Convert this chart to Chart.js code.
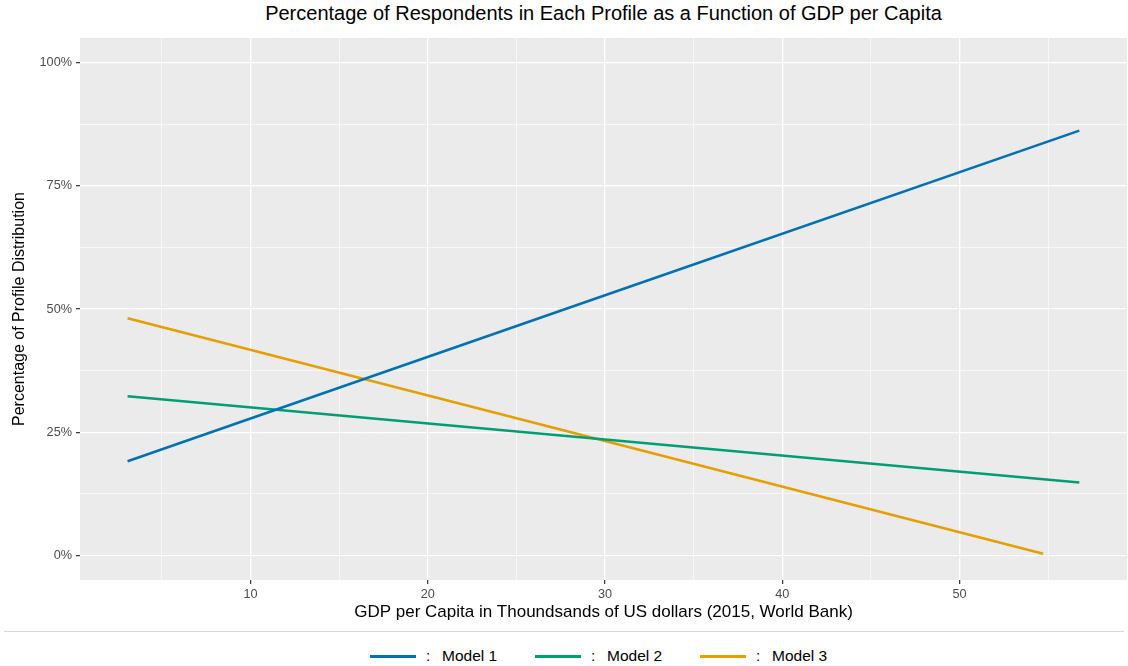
<!DOCTYPE html>
<html>
<head>
<meta charset="utf-8">
<script src="https://cdn.jsdelivr.net/npm/chart.js@4"></script>
<style>
  body { margin: 0; background: #fff; font-family: "Liberation Sans", Arial, sans-serif; }
  #wrap { position: relative; width: 1128px; height: 666px; }
  #chart { position: absolute; left: 0; top: 0; }
  #title { position: absolute; left: 80px; width: 1047px; top: 2px; text-align: center; font-size: 20px; color: #000; }
  #sep { position: absolute; left: 4px; right: 4px; top: 631px; border-top: 1px solid #d9d9d9; }
  #legend { position: absolute; left: 370px; top: 645px; display: flex; font-size: 15.5px; color: #000; }
  .item { display: flex; align-items: center; width: 165px; height: 22px; }
  .swatch { width: 46px; height: 3px; }
  .colon { margin-left: 10px; width: 16px; }
</style>
</head>
<body>
<div id="wrap">
  <div id="title">Percentage of Respondents in Each Profile as a Function of GDP per Capita</div>
  <canvas id="chart" width="1128" height="625"></canvas>
  <div id="sep"></div>
  <div id="legend"></div>
</div>
<script>
// Data
const seriesNames = ['Model 1', 'Model 2', 'Model 3'];
const seriesColors = ['#0072B2', '#009E73', '#E69F00'];
const model1X = [3.06, 30, 56.76];
const model1Y = [19.1, 52.8, 86.2];
const model2X = [3.06, 30, 56.76];
const model2Y = [32.3, 23.5, 14.8];
const model3X = [3.06, 30, 54.72];
const model3Y = [48.1, 23.2, 0.34];
const xTicks = [5, 10, 15, 20, 25, 30, 35, 40, 45, 50, 55];
const xLabels = [10, 20, 30, 40, 50];
const yTicks = [0, 12.5, 25, 37.5, 50, 62.5, 75, 87.5, 100];
const yLabels = [0, 25, 50, 75, 100];

const allX = [model1X, model2X, model3X];
const allY = [model1Y, model2Y, model3Y];

const datasets = seriesNames.map((name, i) => ({
    label: name,
    data: allX[i].map((x, j) => ({ x: x, y: allY[i][j] })),
    borderColor: seriesColors[i],
    backgroundColor: seriesColors[i],
    borderWidth: 2.6,
    pointRadius: 0,
    showLine: true,
    tension: 0
}));

// legend
const legend = document.getElementById('legend');
seriesNames.forEach((name, i) => {
    const item = document.createElement('div');
    item.className = 'item';
    item.innerHTML = `<div class="swatch" style="background:${seriesColors[i]}"></div><span class="colon">:</span><span>${name}</span>`;
    legend.appendChild(item);
});

const panelBg = {
    id: 'panelBg',
    beforeDraw(chart) {
        const { ctx, chartArea: a } = chart;
        ctx.save();
        ctx.fillStyle = '#EBEBEB';
        ctx.fillRect(a.left, a.top, a.right - a.left, a.bottom - a.top);
        ctx.restore();
    }
};

const fam = '"Liberation Sans", Arial, sans-serif';
const tickFont = { family: fam, size: 12.7 };

new Chart(document.getElementById('chart'), {
    type: 'scatter',
    data: { datasets: datasets },
    options: {
        responsive: false,
        animation: false,
        layout: { padding: { top: 38, right: 1, left: 0, bottom: 0 } },
        plugins: {
            legend: { display: false },
            tooltip: { enabled: false },
            title: { display: false }
        },
        scales: {
            x: {
                type: 'linear',
                min: 0.375,
                max: 59.45,
                afterFit: s => { s.height = 45; },
                afterBuildTicks: s => { s.ticks = xTicks.map(v => ({ value: v })); },
                grid: {
                    color: '#ffffff',
                    lineWidth: c => xLabels.includes(c.tick.value) ? 1.3 : 0.6,
                    tickColor: c => xLabels.includes(c.tick.value) ? '#333333' : 'rgba(0,0,0,0)',
                    tickLength: 4,
                    tickWidth: 1.2
                },
                border: { display: false },
                ticks: {
                    color: '#4D4D4D',
                    font: tickFont,
                    padding: 3,
                    maxRotation: 0,
                    autoSkip: false,
                    callback: v => xLabels.includes(v) ? String(v) : ''
                },
                title: {
                    display: true,
                    text: 'GDP per Capita in Thoundsands of US dollars (2015, World Bank)',
                    color: '#000',
                    font: { family: fam, size: 17 },
                    padding: { top: 2, bottom: 2 }
                }
            },
            y: {
                min: -5,
                max: 105,
                afterFit: s => { s.width = 80; },
                afterBuildTicks: s => { s.ticks = yTicks.map(v => ({ value: v })); },
                grid: {
                    color: '#ffffff',
                    lineWidth: c => yLabels.includes(c.tick.value) ? 1.3 : 0.6,
                    tickColor: c => yLabels.includes(c.tick.value) ? '#333333' : 'rgba(0,0,0,0)',
                    tickLength: 4,
                    tickWidth: 1.2
                },
                border: { display: false },
                ticks: {
                    color: '#4D4D4D',
                    font: tickFont,
                    padding: 4,
                    autoSkip: false,
                    callback: v => yLabels.includes(v) ? v + '%' : ''
                },
                title: {
                    display: true,
                    text: 'Percentage of Profile Distribution',
                    color: '#000',
                    font: { family: fam, size: 16 },
                    padding: { top: 10, bottom: 10 }
                }
            }
        }
    },
    plugins: [panelBg]
});
</script>
</body>
</html>
